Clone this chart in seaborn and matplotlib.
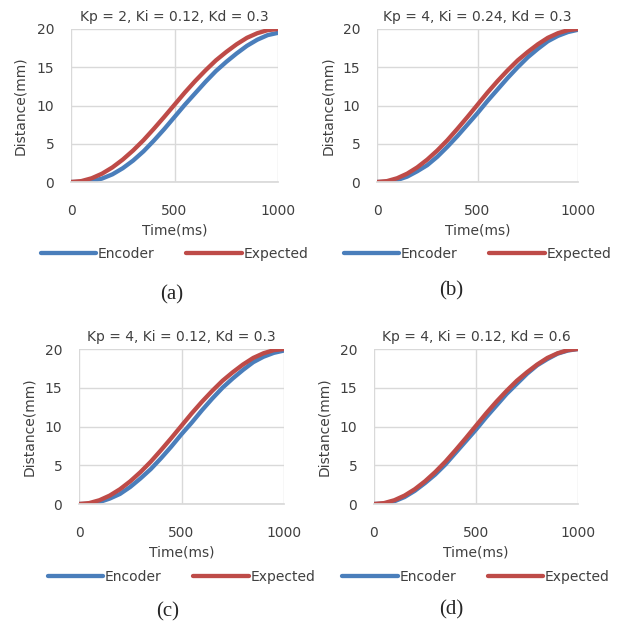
import pandas as pd
import matplotlib.pyplot as plt
import seaborn as sns

# Time samples (ms)
time_ms = [0, 50, 100, 150, 200, 250, 300, 350, 400, 450, 500,
           550, 600, 650, 700, 750, 800, 850, 900, 950, 1000]

# Expected trajectory (same in all four runs)
expected = [0.0, 0.12, 0.49, 1.09, 1.91, 2.93, 4.12, 5.46, 6.95, 8.5, 10.1,
            11.7, 13.2, 14.6, 15.9, 17.0, 18.0, 18.85, 19.45, 19.85, 20.0]

# Encoder readings for each gain setting
encoder_a = [0.0, 0.0, 0.1, 0.45, 1.0, 1.8, 2.8, 4.0, 5.4, 6.9, 8.5,
             10.1, 11.6, 13.1, 14.5, 15.7, 16.8, 17.8, 18.6, 19.2, 19.5]
encoder_b = [0.0, 0.02, 0.25, 0.7, 1.4, 2.2, 3.3, 4.6, 6.0, 7.5, 9.0,
             10.6, 12.1, 13.6, 15.0, 16.3, 17.4, 18.4, 19.1, 19.6, 19.9]
encoder_c = [0.0, 0.02, 0.25, 0.7, 1.3, 2.2, 3.3, 4.5, 5.9, 7.4, 9.0,
             10.5, 12.1, 13.6, 15.0, 16.2, 17.3, 18.3, 19.0, 19.5, 19.8]
encoder_d = [0.0, 0.05, 0.35, 0.9, 1.7, 2.7, 3.8, 5.1, 6.6, 8.1, 9.6,
             11.2, 12.7, 14.2, 15.5, 16.8, 17.9, 18.7, 19.4, 19.8, 20.0]

titles = ["Kp = 2, Ki = 0.12, Kd = 0.3", "Kp = 4, Ki = 0.24, Kd = 0.3",
          "Kp = 4, Ki = 0.12, Kd = 0.3", "Kp = 4, Ki = 0.12, Kd = 0.6"]
panel_labels = ["(a)", "(b)", "(c)", "(d)"]
encoders = [encoder_a, encoder_b, encoder_c, encoder_d]

sns.set_theme(style="white")
plt.rcParams['font.family'] = ['DejaVu Sans']

W, H = 618, 632
fig = plt.figure(figsize=(W / 100, H / 100), dpi=100)

# axes boxes in pixels: left, right, top, bottom
boxes = [(71, 278, 29, 182), (377, 578, 29, 182),
         (79, 284, 349, 504), (374, 578, 349, 504)]
label_pos = [(172, 295), (451, 291), (168, 612), (451, 610)]

palette = {"Encoder": "#4A7EBB", "Expected": "#BE4B48"}
grid_color = "#D9D9D9"
text_color = "#404040"
fs = 10

for i in range(4):
    l, r, t, b = boxes[i]
    ax = fig.add_axes([l / W, 1 - b / H, (r - l) / W, (b - t) / H])
    df = pd.DataFrame({
        "Time": time_ms * 2,
        "Distance": encoders[i] + expected,
        "Series": ["Encoder"] * len(time_ms) + ["Expected"] * len(time_ms),
    })
    sns.lineplot(data=df, x="Time", y="Distance", hue="Series", palette=palette,
                 linewidth=3.1, ax=ax, legend=False)
    for line in ax.lines:
        line.set_solid_joinstyle("round")
    ax.set_xlim(0, 1000)
    ax.set_ylim(0, 20)
    ax.set_xticks([0, 500, 1000])
    ax.set_yticks([0, 5, 10, 15, 20])
    ax.grid(True, color=grid_color, linewidth=1)
    for side in ["left", "right", "top"]:
        ax.spines[side].set_visible(False)
    ax.spines["bottom"].set_color(grid_color)
    ax.set_axisbelow(True)
    ax.tick_params(axis="x", length=0, pad=16, labelsize=fs, colors=text_color)
    ax.tick_params(axis="y", length=0, pad=12, labelsize=fs, colors=text_color)
    ax.set_title(titles[i], fontsize=fs, pad=6, color=text_color)
    ax.set_xlabel("Time(ms)", fontsize=fs, color=text_color)
    ax.set_ylabel("Distance(mm)", fontsize=fs, color=text_color)
    ax.xaxis.set_label_coords(0.5, -0.27)
    ax.yaxis.set_label_coords(-0.21, 0.5)
    handles = [plt.Line2D([], [], color=palette[k], linewidth=3.1) for k in palette]
    ax.legend(handles, list(palette.keys()), loc="center", bbox_to_anchor=(0.5, -0.47),
              ncol=2, frameon=False, fontsize=fs, handlelength=4.0, handletextpad=0.1,
              columnspacing=2.3, labelcolor=text_color)
    fig.text(label_pos[i][0] / W, 1 - label_pos[i][1] / H, panel_labels[i],
             ha="center", va="center", fontsize=15, family="Liberation Serif")

fig.savefig("out.png", dpi=100)
